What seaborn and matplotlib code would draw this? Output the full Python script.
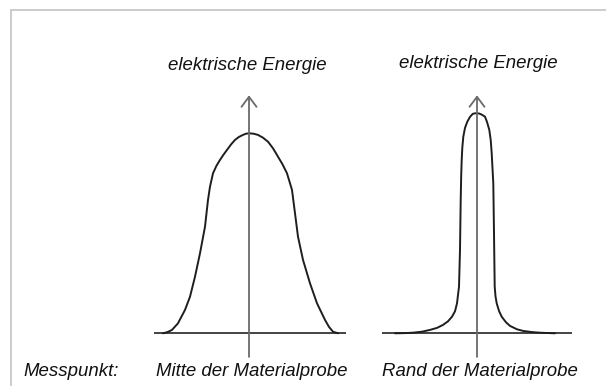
import matplotlib
matplotlib.use("Agg")
import matplotlib.pyplot as plt
from matplotlib.lines import Line2D
import seaborn as sns
import pandas as pd

# ---- data (x: position along the sample, y: electrical energy, relative units) ----
centre_x = [-0.86, -0.815, -0.77, -0.71, -0.64, -0.59, -0.54, -0.49, -0.44, -0.41,
            -0.39, -0.36, -0.325, -0.29, -0.255, -0.22, -0.18, -0.14, -0.10, -0.06,
            -0.03, 0.0, 0.045, 0.09, 0.14, 0.19, 0.24, 0.29, 0.335, 0.38,
            0.43, 0.46, 0.49, 0.54, 0.61, 0.68, 0.76, 0.80, 0.84, 0.89]
centre_energy = [0.0, 0.006, 0.017, 0.05, 0.117, 0.183, 0.283, 0.40, 0.533, 0.667,
                 0.733, 0.80, 0.838, 0.867, 0.893, 0.917, 0.944, 0.967, 0.982, 0.992,
                 0.998, 1.0, 0.998, 0.992, 0.978, 0.958, 0.925, 0.883, 0.845, 0.80,
                 0.717, 0.60, 0.483, 0.367, 0.25, 0.15, 0.067, 0.032, 0.008, 0.0]

edge_x = [-0.82, -0.72, -0.64, -0.55, -0.47, -0.40, -0.34, -0.29, -0.25, -0.22,
          -0.20, -0.18, -0.17, -0.163, -0.158, -0.153, -0.147, -0.137, -0.12, -0.097,
          -0.07, -0.043, -0.02, 0.0, 0.02, 0.045, 0.08, 0.10, 0.123, 0.137,
          0.147, 0.163, 0.17, 0.177, 0.185, 0.197, 0.22, 0.247, 0.29, 0.33,
          0.40, 0.46, 0.55, 0.63, 0.78]
edge_energy = [0.0, 0.001, 0.003, 0.008, 0.017, 0.027, 0.042, 0.06, 0.083, 0.11,
               0.15, 0.233, 0.417, 0.667, 0.79, 0.867, 0.927, 0.983, 1.027, 1.058,
               1.082, 1.097, 1.100, 1.10, 1.099, 1.094, 1.083, 1.057, 1.017, 0.967,
               0.90, 0.75, 0.50, 0.233, 0.185, 0.15, 0.112, 0.083, 0.055, 0.037,
               0.02, 0.012, 0.006, 0.003, 0.0]

y_label = "elektrische Energie"
row_label = "Messpunkt:"
panel_labels = ["Mitte der Materialprobe", "Rand der Materialprobe"]

# ---- figure ----
sns.set_theme(style="white")
plt.rcParams["font.family"] = ["Liberation Sans", "DejaVu Sans"]

W, H = 606, 386
fig = plt.figure(figsize=(W / 100, H / 100), dpi=100)
fig.patch.set_facecolor("white")


def fx(px):
    return px / W


def fy(py):
    return 1 - py / H


# frame lines (top and left)
fig.add_artist(Line2D([fx(10.5), 1.0], [fy(9.5), fy(9.5)], color="#c8c8c8", lw=1.3))
fig.add_artist(Line2D([fx(10.5), fx(10.5)], [fy(9.5), 0.0], color="#c8c8c8", lw=1.3))

panels = [
    (249, centre_x, centre_energy, (-0.95, 0.97)),
    (477, edge_x, edge_energy, (-0.95, 0.95)),
]

for cx, xs, ys, (b0, b1) in panels:
    ax = fig.add_axes([fx(cx - 100), fy(363.3), 200 / W, 280 / H])
    ax.set_xlim(-1, 1)
    ax.set_ylim(-0.15, 1.25)
    ax.set_axis_off()
    df = pd.DataFrame({"x": xs, "y": ys})
    # baseline
    ax.plot([b0, b1], [0, 0], color="#111111", lw=1.1, solid_capstyle="butt")
    # vertical axis with open arrow head
    ax.annotate("", xy=(0, 1.19), xytext=(0, -0.118),
                arrowprops=dict(arrowstyle="->,head_length=0.6,head_width=0.45",
                                color="#6a6a6a", lw=1.3, shrinkA=0, shrinkB=0))
    sns.lineplot(data=df, x="x", y="y", ax=ax, sort=False, estimator=None,
                 color="#1e1e1e", lw=1.4, solid_joinstyle="round")

# texts
tkw = dict(fontsize=13.4, style="italic", color="#111111")
fig.text(fx(247), fy(70), y_label, ha="center", va="baseline", **tkw)
fig.text(fx(478), fy(68), y_label, ha="center", va="baseline", **tkw)
fig.text(fx(23), fy(375.5), row_label, ha="left", va="baseline", **tkw)
fig.text(fx(252), fy(375.5), panel_labels[0], ha="center", va="baseline", **tkw)
fig.text(fx(480), fy(375.5), panel_labels[1], ha="center", va="baseline", **tkw)

fig.savefig("out.png", dpi=100, facecolor="white")
